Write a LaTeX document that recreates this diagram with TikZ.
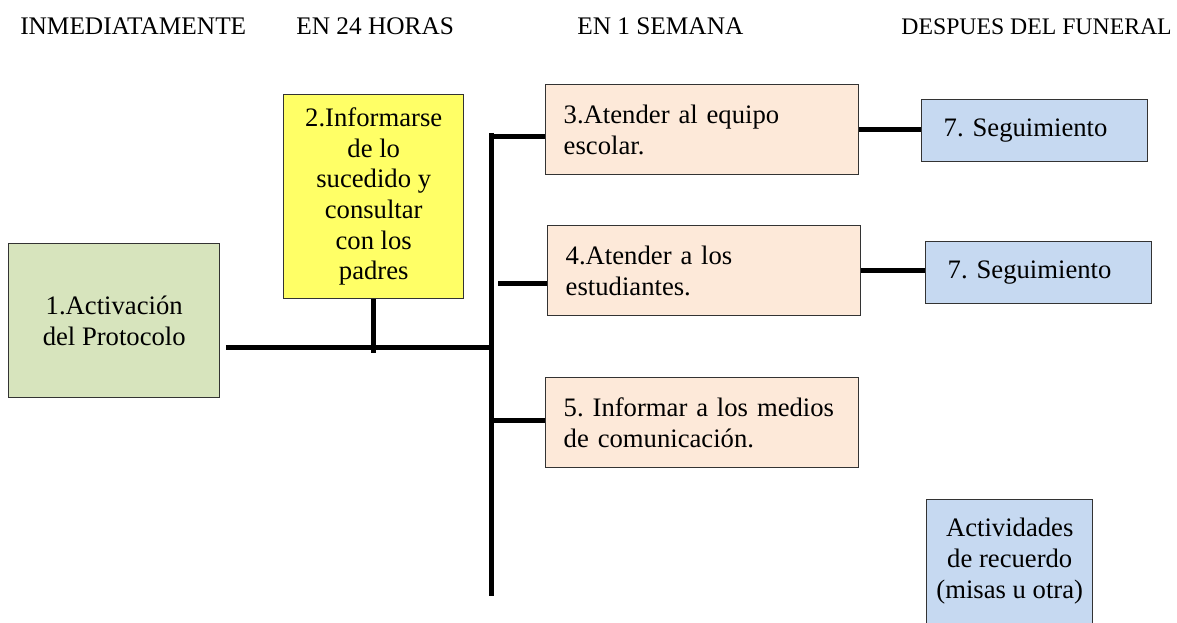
\documentclass[tikz,border=0pt]{standalone}
\usepackage{fontspec}
\setmainfont{Liberation Serif}
\usetikzlibrary{positioning}
\definecolor{verde}{HTML}{D7E4BD}
\definecolor{amarillo}{HTML}{FFFF66}
\definecolor{salmon}{HTML}{FDE9D9}
\definecolor{celeste}{HTML}{C6D9F1}
\frenchspacing
\begin{document}
\begin{tikzpicture}[x=0.75pt, y=-0.75pt, font=\fontsize{20}{23}\selectfont,
        caja/.style = {draw=black!80, line width=1.1pt, inner sep=0pt, anchor=north west},
        paso/.style = {caja, fill=salmon, align=left, inner xsep=13.5pt, text width=207.75pt, minimum height=67.5pt},
        segui/.style = {caja, fill=celeste, align=left, inner xsep=16.5pt, text width=136.5pt, minimum height=46.5pt},
        titulo/.style = {inner sep=0pt, font=\fontsize{19}{22}\selectfont},
        rama/.style = {line width=3.75pt}]
            \useasboundingbox (0,0) rectangle (1177,623);

            \node[titulo, anchor=base west] (h1) at (20,35)  {INMEDIATAMENTE};
            \node[titulo, anchor=base west] (h2) at (296,35) {EN 24 HORAS};
            \node[titulo, anchor=base west] (h3) at (577,35) {EN 1 SEMANA};
            \node[titulo, anchor=base east, font=\fontsize{17.8}{22}\selectfont] (h4) at (1172,35) {DESPUES DEL FUNERAL};

            \node[caja, fill=verde, align=center, minimum width=158.25pt, minimum height=115.5pt] (1) at (8,243) {1.Activación\\del Protocolo};
            \node[caja, fill=amarillo, align=center, minimum width=135pt, minimum height=153pt] (2) at (283,94) {2.Informarse\\de lo\\sucedido y\\consultar\\con los\\padres};
            \node[paso] (3) at (545,84)  {3.Atender al equipo\\escolar.};
            \node[paso] (4) at (547,225) {4.Atender a los\\estudiantes.};
            \node[paso] (5) at (545,377) {5. Informar a los medios\\de comunicación.};
            \node[segui] (7a) at (921,99)  {7. Seguimiento};
            \node[segui] (7b) at (925,241) {7. Seguimiento};
            \node[caja, fill=celeste, align=center, minimum width=124.5pt, minimum height=106pt] (8) at (926,499) {Actividades\\de recuerdo\\(misas u otra)\\[-5pt]\mbox{}};

            \coordinate (union) at (491,348);
            \coordinate (arriba) at (491,133);
            \coordinate (abajo) at (491,596);
            \coordinate (t3) at (491,137);
            \coordinate (t4) at (498,284);
            \coordinate (t5) at (491,420);

            \draw[rama] ([xshift=4pt]1.east |- union) -- (union);
            \draw[rama] (2.south) -- ([yshift=-4pt]2.south |- union);
            \draw[rama] (arriba) -- (abajo);
            \draw[rama] (t3) -- (t3 -| 3.west);
            \draw[rama] (t4) -- (t4 -| 4.west);
            \draw[rama] (t5) -- (t5 -| 5.west);
            \draw[rama] (3.east) -- (3.east -| 7a.west);
            \draw[rama] (4.east) -- (4.east -| 7b.west);
        \end{tikzpicture}
\end{document}
